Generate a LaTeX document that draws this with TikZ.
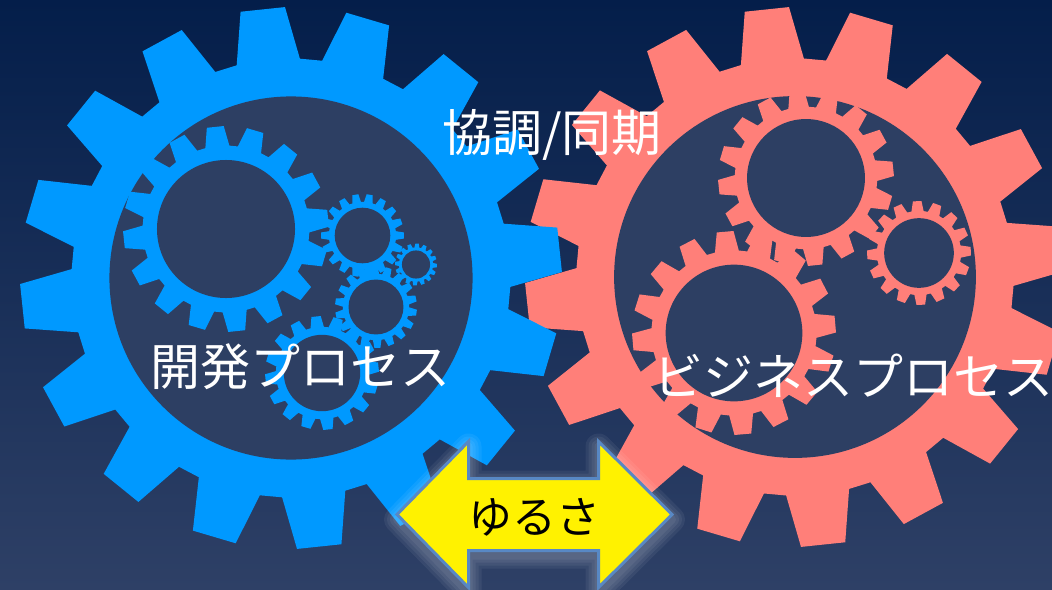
\documentclass[tikz,border=0pt]{standalone}
\usepackage{fontspec}
\setmainfont{Noto Sans CJK JP}

\definecolor{bgtop}{RGB}{4,30,74}
\definecolor{bgmid}{RGB}{32,50,92}
\definecolor{bgbottom}{RGB}{46,64,102}
\definecolor{holefill}{RGB}{45,63,99}
\definecolor{gearblue}{RGB}{0,153,255}
\definecolor{gearpink}{RGB}{255,127,121}
\definecolor{arrowedge}{RGB}{88,136,196}

% gear: #1 centre, #2 tip radius, #3 teeth, #4 phase, #5 colour
\newcommand{\gear}[5]{%
  \pgfmathtruncatemacro{\glast}{#3-1}
  \begin{scope}[shift={#1}]
    \fill[#5] ({#4-0.37*360/#3}:{0.81*#2})
      \foreach \k in {0,...,\glast} {
        -- ({#4+\k*360/#3-0.37*360/#3}:{0.81*#2})
        -- ({#4+\k*360/#3-0.21*360/#3}:{#2})
        -- ({#4+\k*360/#3+0.21*360/#3}:{#2})
        -- ({#4+\k*360/#3+0.37*360/#3}:{0.81*#2})
      } -- cycle;
    \fill[holefill] (0,0) circle ({0.67*#2});
  \end{scope}
}

% double arrow between the two gears
\newcommand{\slackpath}{(397,514.5) -- (468.5,441.5) -- (468.5,478.5)
  -- (598.5,478.5) -- (598.5,441.5) -- (672,514.5) -- (598.5,587.5)
  -- (598.5,550.5) -- (468.5,550.5) -- (468.5,587.5) -- cycle}

\begin{document}
\begin{tikzpicture}[
    x = 1pt, y = -1pt, % y grows downward
    title/.style = {text = white, inner sep = 0pt,
      font = \fontsize{50}{60}\selectfont},
    slack/.style = {fill = yellow, draw = arrowedge, line width = 3pt},
    glow/.style = {draw = white, opacity = 0.06, line join = round}
  ]

  \useasboundingbox (0,0) rectangle (1052,589);
  \shade[top color = bgtop, middle color = bgmid, bottom color = bgbottom]
    (0,0) rectangle (1052,589);

  % business side
  \gear{(795,277)}{270}{16}{-6}{gearpink}
  \gear{(806,178)}{88}{16}{-6}{gearpink}
  \gear{(919,253)}{52}{16}{-2}{gearpink}
  \gear{(734,333)}{102}{16}{-5}{gearpink}

  % development side
  \gear{(291,278)}{271}{16}{-6}{gearblue}
  \gear{(226,229)}{103}{16}{-6}{gearblue}
  \gear{(362.5,235.5)}{41.5}{18}{0}{gearblue}
  \gear{(416,264.5)}{21}{16}{3}{gearblue}
  \gear{(376,307)}{41}{18}{8}{gearblue}
  \gear{(322,373)}{57}{16}{-6}{gearblue}

  % labels
  \node[title] (sync) at (552,135) {協調/同期};
  \node[title] (dev) at (300,367) {開発プロセス};
  \node[title] (biz) at (853,376) {ビジネスプロセス};

  % slack arrow with a soft glow
  \begin{scope}[yshift=-5pt]
    \foreach \w in {26,20,14,8}
      \draw[glow, line width=\w pt] \slackpath;
  \end{scope}
  \filldraw[slack] \slackpath;
  \node[inner sep=0pt, font=\fontsize{44}{52}\selectfont] (slack) at (534.5,517) {ゆるさ};

\end{tikzpicture}
\end{document}
